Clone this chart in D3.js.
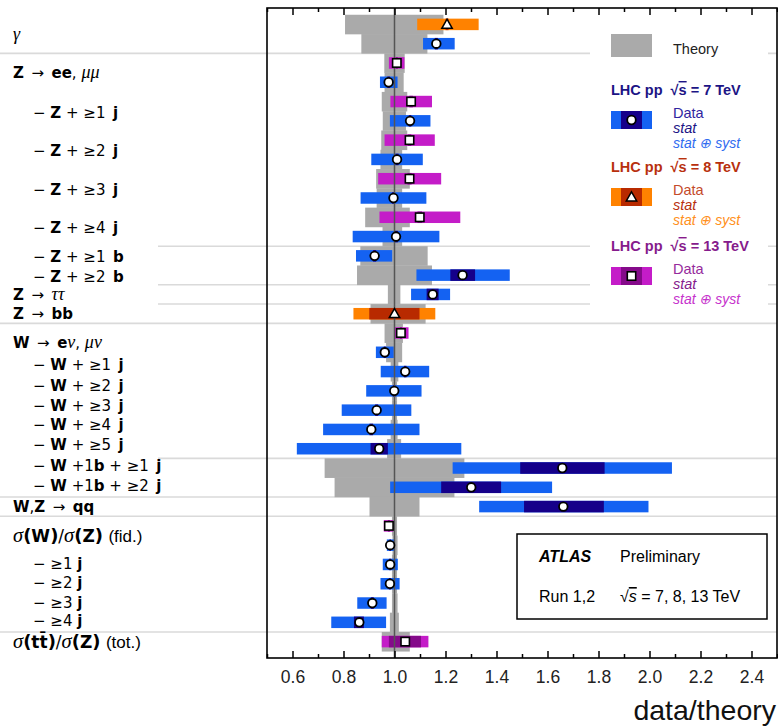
<!DOCTYPE html>
<html>
<head>
<meta charset="utf-8">
<script src="https://cdn.jsdelivr.net/npm/d3@7"></script>
<style>
  body { margin: 0; background: #fff; }
  svg { display: block; }
</style>
</head>
<body>
<svg id="chart" width="778" height="727"></svg>
<script>
// ---- Measurements, one entry per row from top to bottom ----
const rowEnergy = [8, 7, 13, 7, 13, 7, 13, 7, 13, 7, 13, 7, 7, 7, 7, 8, 13, 7,
                   7, 7, 7, 7, 7, 7, 7, 7, 13, 7, 7, 7, 7, 7, 13];
const rowValue  = [1.206, 1.164, 1.009, 0.977, 1.065, 1.061, 1.059, 1.010, 1.059, 0.996,
                   1.099, 1.006, 0.922, 1.267, 1.150, 1.000, 1.025, 0.962, 1.042, 0.999,
                   0.930, 0.909, 0.940, 1.658, 1.301, 1.662, 0.978, 0.983, 0.983, 0.982,
                   0.913, 0.862, 1.042];
const statLo    = [1.200, 1.158, 1.005, 0.972, 1.058, 1.056, 1.052, 1.004, 1.051, 0.990,
                   1.090, 0.999, 0.916, 1.219, 1.126, 0.901, 1.021, 0.958, 1.037, 0.994,
                   0.924, 0.902, 0.906, 1.493, 1.183, 1.508, 0.974, 0.980, 0.979, 0.978,
                   0.907, 0.841, 0.978];
const statHi    = [1.212, 1.170, 1.013, 0.982, 1.072, 1.066, 1.066, 1.016, 1.067, 1.002,
                   1.108, 1.013, 0.928, 1.316, 1.173, 1.098, 1.029, 0.966, 1.047, 1.004,
                   0.936, 0.916, 0.974, 1.824, 1.418, 1.821, 0.982, 0.986, 0.987, 0.986,
                   0.919, 0.880, 1.104];
const totLo     = [1.089, 1.112, 0.978, 0.943, 0.984, 0.982, 0.961, 0.909, 0.936, 0.867,
                   0.941, 0.836, 0.849, 1.086, 1.065, 0.839, 1.000, 0.927, 0.946, 0.889,
                   0.793, 0.720, 0.617, 1.228, 0.983, 1.332, 0.958, 0.970, 0.954, 0.945,
                   0.854, 0.752, 0.950];
const totHi     = [1.330, 1.236, 1.039, 1.012, 1.147, 1.141, 1.158, 1.111, 1.183, 1.125,
                   1.258, 1.176, 0.991, 1.452, 1.218, 1.160, 1.055, 0.997, 1.136, 1.106,
                   1.066, 1.098, 1.262, 2.088, 1.618, 1.996, 0.995, 1.002, 1.013, 1.020,
                   0.969, 0.967, 1.133];
const theoryLo  = [0.806, 0.870, 0.960, 0.961, 0.950, 0.954, 0.948, 0.945, 0.928, 0.930,
                   0.885, 0.953, 0.866, 0.853, 0.974, 0.906, 0.961, 0.967, 0.985, 0.990,
                   0.990, 0.985, 0.971, 0.726, 0.765, 0.902, 0.990, 0.992, 0.990, 0.990,
                   0.990, 0.982, 0.950];
const theoryHi  = [1.192, 1.129, 1.040, 1.036, 1.050, 1.045, 1.050, 1.030, 1.060, 1.030,
                   1.060, 1.030, 1.130, 1.147, 1.023, 1.122, 1.033, 1.030, 1.015, 1.010,
                   1.010, 1.012, 1.026, 1.274, 1.235, 1.098, 1.010, 1.012, 1.010, 1.010,
                   1.012, 1.017, 1.060];

// ---- Process labels and the row position each one sits at ----
const labelText = ["γ", "Z\u2002→\u2002ee, μμ",
                   "− Z + ≥1\u2002j", "− Z + ≥2\u2002j", "− Z + ≥3\u2002j", "− Z + ≥4\u2002j",
                   "− Z + ≥1\u2002b", "− Z + ≥2\u2002b", "Z\u2002→\u2002ττ", "Z\u2002→\u2002bb",
                   "W\u2002→\u2002eν, μν",
                   "− W + ≥1\u2002j", "− W + ≥2\u2002j", "− W + ≥3\u2002j", "− W + ≥4\u2002j", "− W + ≥5\u2002j",
                   "− W +1b + ≥1\u2002j", "− W +1b + ≥2\u2002j", "W,Z\u2002→\u2002qq",
                   "σ(W)/σ(Z) (fid.)",
                   "− ≥1 j", "− ≥2 j", "− ≥3 j", "− ≥4 j", "σ(tt̄)/σ(Z) (tot.)"];
const labelRow  = [0.5, 2.5, 4.55, 6.55, 8.55, 10.55, 12.05, 13.05, 14, 15, 16.5,
                   17.65, 18.7, 19.75, 20.75, 21.8, 22.85, 23.9, 25, 26.55,
                   27.95, 28.95, 29.95, 30.9, 32.05];
const labelIndent = [0, 0, 1, 1, 1, 1, 1, 1, 0, 0, 0, 1, 1, 1, 1, 1, 1, 1, 0, 0, 1, 1, 1, 1, 0];

// Group separators (row boundaries); the long ones run under the labels too
const sepFull    = [1.5, 15.5, 24.5, 25.5, 31.5];
const sepPartial = [11.5, 13.5, 14.5, 22.5];

// Axis ticks
const majorTicks = [0.6, 0.8, 1.0, 1.2, 1.4, 1.6, 1.8, 2.0, 2.2, 2.4];
const minorTicks = [0.5, 0.7, 0.9, 1.1, 1.3, 1.5, 1.7, 1.9, 2.1, 2.3, 2.5];

// ---- Styles per centre-of-mass energy ----
const palette = {
  7:  { syst: "#1462f2", stat: "#15008a", head: "#1c1485", data: "#2f24a0", statTxt: "#1c1485", systTxt: "#2f6cf0", marker: "circle" },
  8:  { syst: "#ff8200", stat: "#b82a00", head: "#b8300e", data: "#c44a2a", statTxt: "#b8300e", systTxt: "#ff9020", marker: "triangle" },
  13: { syst: "#c41cc8", stat: "#850a8a", head: "#861b8c", data: "#962a9c", statTxt: "#861b8c", systTxt: "#c632cc", marker: "square" }
};

const svg = d3.select("#chart");
const W = 778, H = 727;
const plot = { left: 267, right: 777, top: 8, bottom: 658 };

const x = d3.scaleLinear().domain([0.5, 2.5]).range([plot.left, plot.right]);
const y = d3.scaleLinear().domain([-0.85, 32.85]).range([plot.top, plot.bottom]);
const step = y(1) - y(0);
const barH = 11.5;
const rows = d3.range(rowValue.length);

svg.append("rect").attr("width", W).attr("height", H).attr("fill", "#fff");

// separators
const sepG = svg.append("g").attr("stroke", "#dadada").attr("stroke-width", 1.6);
sepFull.forEach(s => sepG.append("line").attr("x1", 0).attr("x2", plot.right).attr("y1", y(s)).attr("y2", y(s)));
sepPartial.forEach(s => sepG.append("line").attr("x1", 158).attr("x2", plot.right).attr("y1", y(s)).attr("y2", y(s)));

// theory bands
svg.append("g").selectAll("rect").data(rows).join("rect")
  .attr("x", i => x(theoryLo[i]))
  .attr("width", i => x(theoryHi[i]) - x(theoryLo[i]))
  .attr("y", i => y(i - 0.5))
  .attr("height", step + 0.3)
  .attr("fill", "#aaaaaa");

// total uncertainty bars
svg.append("g").selectAll("rect").data(rows).join("rect")
  .attr("x", i => x(totLo[i]))
  .attr("width", i => x(totHi[i]) - x(totLo[i]))
  .attr("y", i => y(i) - barH / 2)
  .attr("height", barH)
  .attr("fill", i => palette[rowEnergy[i]].syst);

// statistical bars
svg.append("g").selectAll("rect").data(rows).join("rect")
  .attr("x", i => x(statLo[i]))
  .attr("width", i => x(statHi[i]) - x(statLo[i]))
  .attr("y", i => y(i) - barH / 2)
  .attr("height", barH)
  .attr("fill", i => palette[rowEnergy[i]].stat);

// unity line
svg.append("line")
  .attr("x1", x(1)).attr("x2", x(1)).attr("y1", plot.top).attr("y2", plot.bottom)
  .attr("stroke", "#555").attr("stroke-width", 1.5);

// markers
function drawMarker(g, kind, cx, cy) {
  if (kind === "circle") {
    g.append("circle").attr("cx", cx).attr("cy", cy).attr("r", 4.3)
      .attr("fill", "#fff").attr("stroke", "#000").attr("stroke-width", 1.8);
  } else if (kind === "square") {
    g.append("rect").attr("x", cx - 4.2).attr("y", cy - 4.2).attr("width", 8.4).attr("height", 8.4)
      .attr("fill", "#fff").attr("stroke", "#000").attr("stroke-width", 1.6);
  } else {
    const s = 5.2;
    g.append("path")
      .attr("d", `M${cx},${cy - s}L${cx + s},${cy + s * 0.75}L${cx - s},${cy + s * 0.75}Z`)
      .attr("fill", "#fff").attr("stroke", "#000").attr("stroke-width", 1.5);
  }
}
const mk = svg.append("g");
rows.forEach(i => drawMarker(mk, palette[rowEnergy[i]].marker, x(rowValue[i]), y(i)));

// axes (ticks drawn inside the frame)
const fmt = d3.format(".1f");
const axB = svg.append("g").attr("transform", `translate(0,${plot.bottom})`)
  .call(d3.axisBottom(x).tickValues(majorTicks).tickSizeInner(-7).tickSizeOuter(0).tickPadding(13).tickFormat(fmt));
const axBm = svg.append("g").attr("transform", `translate(0,${plot.bottom})`)
  .call(d3.axisBottom(x).tickValues(minorTicks).tickSizeInner(-4).tickSizeOuter(0).tickFormat(""));
const axT = svg.append("g").attr("transform", `translate(0,${plot.top})`)
  .call(d3.axisTop(x).tickValues(majorTicks).tickSizeInner(-7).tickSizeOuter(0).tickFormat(""));
const axTm = svg.append("g").attr("transform", `translate(0,${plot.top})`)
  .call(d3.axisTop(x).tickValues(minorTicks).tickSizeInner(-4).tickSizeOuter(0).tickFormat(""));
[axB, axBm, axT, axTm].forEach(a => {
  a.select(".domain").remove();
  a.selectAll("line").attr("stroke", "#000").attr("stroke-width", 1.5);
});
axB.selectAll("text").attr("font-family", "Liberation Sans, Arial, sans-serif")
  .attr("font-size", 17.5).attr("fill", "#222");

// frame
svg.append("rect")
  .attr("x", plot.left).attr("y", plot.top)
  .attr("width", plot.right - plot.left).attr("height", plot.bottom - plot.top)
  .attr("fill", "none").attr("stroke", "#000").attr("stroke-width", 1.6);

// axis title
svg.append("text").attr("x", 776).attr("y", 720).attr("text-anchor", "end")
  .attr("font-family", "Liberation Sans, Arial, sans-serif").attr("font-size", 28.5)
  .attr("fill", "#111").text("data/theory");

// ---- Row labels with mixed fonts ----
const sansF = "Liberation Sans, Arial, sans-serif";
const wideF = "DejaVu Sans, Verdana, sans-serif";
const serifF = "Liberation Serif, DejaVu Serif, serif";
function segments(str) {
  const out = [];
  const m = str.match(/\((fid|tot)\.\)/);
  const head = m ? str.slice(0, m.index) : str;
  const tail = m ? str.slice(m.index) : "";
  for (const ch of head) {
    let kind;
    if (/[\u0370-\u03FF]/.test(ch)) kind = "greek";
    else if (/[A-Za-z\u0304]/.test(ch)) kind = "bold";
    else if (/[()]/.test(ch)) kind = "paren";
    else kind = "sym";
    const last = out[out.length - 1];
    if (last && last.kind === kind) last.text += ch; else out.push({ kind, text: ch });
  }
  if (tail) out.push({ kind: "note", text: tail });
  return out;
}
const lab = svg.append("g");
labelText.forEach((t, k) => {
  const ratio = t.startsWith("σ");
  const tx = lab.append("text")
    .attr("x", labelIndent[k] ? 33 : 13)
    .attr("y", y(labelRow[k]) + 5.5)
    .attr("fill", "#000")
    .attr("xml:space", "preserve");
  segments(t).forEach(s => {
    const sp = tx.append("tspan").text(s.text);
    if (s.kind === "greek") {
      sp.attr("font-family", serifF).attr("font-style", "italic").attr("font-size", ratio ? 20.5 : 18);
    } else if (s.kind === "bold") {
      sp.attr("font-family", wideF).attr("font-weight", "bold").attr("font-size", ratio ? 17 : 15);
    } else if (s.kind === "paren") {
      sp.attr("font-family", wideF).attr("font-weight", "bold").attr("font-size", ratio ? 18 : 15);
    } else if (s.kind === "note") {
      sp.attr("font-family", sansF).attr("font-size", 17);
    } else {
      sp.attr("font-family", wideF).attr("font-size", ratio ? 17 : 15);
    }
  });
});

// ---- Legend ----
const leg = svg.append("g");
leg.append("rect").attr("x", 590).attr("y", 28).attr("width", 178).attr("height", 290).attr("fill", "#fff");
leg.append("rect").attr("x", 611).attr("y", 34).attr("width", 41).attr("height", 23).attr("fill", "#aaaaaa");
leg.append("text").attr("x", 673).attr("y", 54).attr("font-family", sansF).attr("font-size", 14.5)
  .attr("fill", "#222").text("Theory");

const legendEnergies = [7, 8, 13];
const legendTop = [90, 167, 246];
legendEnergies.forEach((e, k) => {
  const p = palette[e], cy = legendTop[k];
  const h = leg.append("text").attr("x", 611).attr("y", cy + 5)
    .attr("font-family", sansF).attr("font-size", 14.5).attr("font-weight", "bold").attr("fill", p.head)
    .attr("xml:space", "preserve");
  h.append("tspan").text("LHC pp  √");
  h.append("tspan").attr("text-decoration", "overline").text("s");
  h.append("tspan").text(` = ${e} TeV`);
  const by = cy + 21;
  leg.append("rect").attr("x", 611).attr("y", by).attr("width", 41).attr("height", 18).attr("fill", p.syst);
  leg.append("rect").attr("x", 621).attr("y", by).attr("width", 21).attr("height", 18).attr("fill", p.stat);
  drawMarker(leg, p.marker, 631.5, by + 9);
  leg.append("text").attr("x", 673).attr("y", by + 7).attr("font-family", sansF).attr("font-size", 14.5)
    .attr("fill", p.data).text("Data");
  leg.append("text").attr("x", 673).attr("y", by + 22).attr("font-family", sansF).attr("font-size", 14.5)
    .attr("font-style", "italic").attr("fill", p.statTxt).text("stat");
  leg.append("text").attr("x", 673).attr("y", by + 37).attr("font-family", sansF).attr("font-size", 14)
    .attr("font-style", "italic").attr("fill", p.systTxt).text("stat ⊕ syst");
});

// ---- Experiment box ----
const box = svg.append("g");
box.append("rect").attr("x", 517).attr("y", 534).attr("width", 250).attr("height", 85)
  .attr("fill", "#fff").attr("stroke", "#000").attr("stroke-width", 1.5);
box.append("text").attr("x", 539).attr("y", 562).attr("font-family", sansF).attr("font-size", 16)
  .attr("font-weight", "bold").attr("font-style", "italic").attr("fill", "#000").text("ATLAS");
box.append("text").attr("x", 620).attr("y", 562).attr("font-family", sansF).attr("font-size", 16)
  .attr("fill", "#000").text("Preliminary");
box.append("text").attr("x", 539).attr("y", 602).attr("font-family", sansF).attr("font-size", 16)
  .attr("fill", "#000").text("Run 1,2");
const rs = box.append("text").attr("x", 620).attr("y", 602).attr("font-family", sansF).attr("font-size", 16)
  .attr("fill", "#000");
rs.append("tspan").text("√");
rs.append("tspan").attr("font-style", "italic").attr("text-decoration", "overline").text("s");
rs.append("tspan").text(" = 7, 8, 13 TeV");
</script>
</body>
</html>
